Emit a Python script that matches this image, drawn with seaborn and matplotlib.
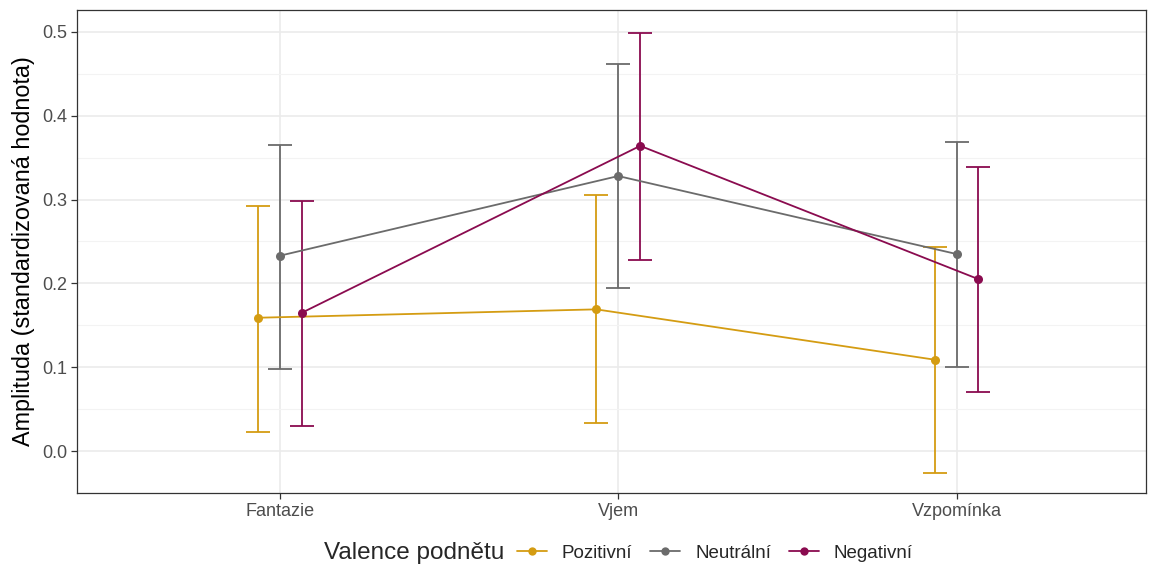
import matplotlib
matplotlib.use("Agg")
import matplotlib.pyplot as plt
from matplotlib.lines import Line2D
from matplotlib.ticker import MultipleLocator
import numpy as np
import pandas as pd
import seaborn as sns

categories = ["Fantazie", "Vjem", "Vzpomínka"]
valence = ["Pozitivní", "Neutrální", "Negativní"]
colors = ["#D49C12", "#6B6B6B", "#8A0B4F"]

mean_pos = [0.159, 0.169, 0.109]
low_pos = [0.023, 0.033, -0.026]
high_pos = [0.292, 0.305, 0.243]

mean_neu = [0.233, 0.328, 0.235]
low_neu = [0.098, 0.195, 0.100]
high_neu = [0.365, 0.462, 0.369]

mean_neg = [0.165, 0.364, 0.205]
low_neg = [0.030, 0.228, 0.070]
high_neg = [0.298, 0.499, 0.339]

DODGE = 0.065


def build_frame():
    rows = []
    series = [
        (mean_pos, low_pos, high_pos),
        (mean_neu, low_neu, high_neu),
        (mean_neg, low_neg, high_neg),
    ]
    for j, (name, (m, lo, hi)) in enumerate(zip(valence, series)):
        for i, cat in enumerate(categories):
            rows.append({
                "kategorie": cat,
                "valence": name,
                "x": i + 1 + (j - 1) * DODGE,
                "mean": m[i],
                "low": lo[i],
                "high": hi[i],
            })
    return pd.DataFrame(rows)


def main():
    sns.set_theme(style="whitegrid")
    plt.rcParams["font.family"] = ["Liberation Sans", "DejaVu Sans"]

    df = build_frame()
    palette = dict(zip(valence, colors))

    fig = plt.figure(figsize=(11.56, 5.66), dpi=100)
    ax = fig.add_axes([0.0666, 0.129, 0.9247, 0.8533])

    for name in valence:
        sub = df[df["valence"] == name]
        ax.errorbar(
            sub["x"], sub["mean"],
            yerr=[sub["mean"] - sub["low"], sub["high"] - sub["mean"]],
            fmt="none", ecolor=palette[name], elinewidth=1.3,
            capsize=8.5, capthick=1.3, zorder=3,
        )

    sns.lineplot(
        data=df, x="x", y="mean", hue="valence", hue_order=valence,
        palette=palette, marker="o", markersize=6.5, markeredgewidth=0,
        linewidth=1.3, legend=False, ax=ax, zorder=4, sort=True,
    )

    ax.set_xlim(0.40, 3.56)
    ax.set_xticks([1, 2, 3])
    ax.set_xticklabels(categories)
    ax.yaxis.set_major_locator(MultipleLocator(0.1))
    ax.yaxis.set_minor_locator(MultipleLocator(0.05))
    ax.set_ylim(-0.050, 0.526)
    ax.set_yticks([0.0, 0.1, 0.2, 0.3, 0.4, 0.5])
    ax.set_yticklabels(["0.0", "0.1", "0.2", "0.3", "0.4", "0.5"])

    ax.grid(which="major", color="#EBEBEB", linewidth=1.2)
    ax.grid(which="minor", axis="y", color="#F3F3F3", linewidth=0.8)
    ax.set_facecolor("white")
    for spine in ax.spines.values():
        spine.set_color("#333333")
        spine.set_linewidth(0.9)

    ax.tick_params(axis="both", which="major", labelsize=13, labelcolor="#4D4D4D",
                   color="#333333", length=4, width=0.9, left=True, bottom=True, pad=3)
    ax.tick_params(axis="y", which="minor", length=0)
    ax.set_xlabel("")
    ax.set_ylabel("Amplituda (standardizovaná hodnota)", fontsize=16.8, color="black", labelpad=5)

    handles = [
        Line2D([0], [0], color=c, marker="o", markersize=6, markeredgewidth=0, linewidth=1.3)
        for c in colors
    ]
    fig.text(0.280, 0.023, "Valence podnětu", fontsize=17.5, va="center", ha="left")
    fig.legend(handles, valence, loc="center left", bbox_to_anchor=(0.4472, 0.023),
               ncol=3, frameon=False, fontsize=13.5, handlelength=1.6,
               columnspacing=0.95, handletextpad=0.8, borderaxespad=0, borderpad=0)

    fig.savefig("out.png", dpi=100)
    plt.close(fig)


if __name__ == "__main__":
    main()
